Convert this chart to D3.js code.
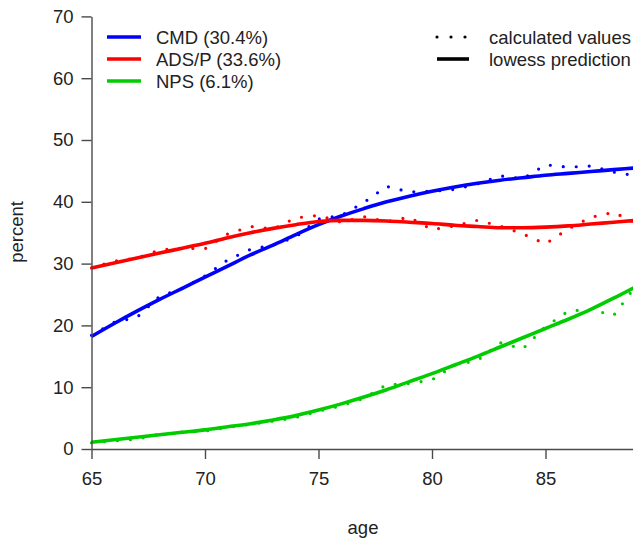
<!DOCTYPE html>
<html>
<head>
<meta charset="utf-8">
<script src="https://cdn.jsdelivr.net/npm/d3@7"></script>
<style>
  body { margin: 0; background: #fff; }
  svg { display: block; }
  text { font-family: "Liberation Sans", Arial, sans-serif; }
</style>
</head>
<body>
<svg id="chart" width="633" height="541"></svg>
<script>
// ages (years)
var AGES = [65,66,67,68,69,70,71,72,73,74,75,76,77,78,79,80,81,82,83,84,85,86,87,88,89];

// calculated values (percent)
var CMD_CALC  = [18.4,20.5,21.3,24.7,26.0,28.0,30.6,32.3,33.0,34.3,37.2,37.8,39.9,42.5,41.6,41.7,42.0,42.9,44.2,43.7,46.0,45.6,45.8,44.8,44.2];
var ADS_CALC  = [29.3,30.4,30.9,32.2,32.5,32.4,34.8,36.0,35.6,37.4,37.8,36.7,37.6,36.8,37.5,35.5,36.1,37.0,36.1,34.8,33.2,35.6,37.5,38.3,36.5];
var NPS_CALC  = [1.0,1.3,1.6,2.4,2.75,2.9,3.5,4.0,4.5,5.1,6.1,7.0,8.2,10.4,10.6,11.2,13.6,14.3,17.2,16.2,19.8,22.3,22.6,21.6,26.5];

// lowess prediction (percent)
var CMD_LOW = [18.2,20.3,22.3,24.2,26.0,27.8,29.6,31.4,33.0,34.7,36.3,37.7,38.9,40.0,40.9,41.7,42.4,43.0,43.5,43.9,44.3,44.6,44.9,45.2,45.5];
var ADS_LOW = [29.3,30.1,30.9,31.7,32.5,33.3,34.2,35.0,35.7,36.3,36.8,37.0,37.0,36.9,36.7,36.5,36.2,36.0,35.8,35.8,35.9,36.1,36.4,36.7,37.0];
var NPS_LOW = [1.1,1.5,1.9,2.3,2.7,3.1,3.6,4.1,4.7,5.4,6.3,7.3,8.4,9.6,10.9,12.2,13.6,15.0,16.5,18.0,19.5,21.0,22.6,24.4,26.3];

var SERIES_NAMES  = ["CMD (30.4%)", "ADS/P (33.6%)", "NPS (6.1%)"];
var SERIES_COLORS = ["#0000ff", "#ff0000", "#00cc00"];
var X_TICKS = [65,70,75,80,85];
var Y_TICKS = [0,10,20,30,40,50,60,70];

var FONT = "18.5px";

var svg = d3.select("#chart");

var x = d3.scaleLinear().domain([65, 90]).range([91.5, 91.5 + 25 * 22.7]);
var y = d3.scaleLinear().domain([0, 70]).range([449, 16.4]);

var calcs = [CMD_CALC, ADS_CALC, NPS_CALC];
var lows  = [CMD_LOW, ADS_LOW, NPS_LOW];

// dotted polylines for the calculated values
var calcLine = d3.line()
    .x(function(d, i){ return x(AGES[i]); })
    .y(function(d){ return y(d); });

var lowLine = d3.line()
    .x(function(d, i){ return x(AGES[i]); })
    .y(function(d){ return y(d); })
    .curve(d3.curveMonotoneX);

svg.selectAll("path.calc")
    .data(calcs)
    .enter()
    .append("path")
    .attr("class", "calc")
    .attr("d", calcLine)
    .attr("fill", "none")
    .attr("stroke", function(d, i){ return SERIES_COLORS[i]; })
    .attr("stroke-width", 3.2)
    .attr("stroke-linecap", "round")
    .attr("stroke-dasharray", "0,13");

svg.selectAll("path.low")
    .data(lows)
    .enter()
    .append("path")
    .attr("class", "low")
    .attr("d", lowLine)
    .attr("fill", "none")
    .attr("stroke", function(d, i){ return SERIES_COLORS[i]; })
    .attr("stroke-width", 3.6);

// axes
svg.append("g")
    .attr("transform", "translate(" + x(65) + ",0)")
    .call(d3.axisLeft(y).tickValues(Y_TICKS).tickSize(10).tickSizeOuter(0).tickPadding(8));

svg.append("g")
    .attr("transform", "translate(0," + y(0) + ")")
    .call(d3.axisBottom(x).tickValues(X_TICKS).tickSize(10).tickSizeOuter(0).tickPadding(13));

svg.selectAll(".domain, .tick line")
    .attr("stroke", "#4a4a4a")
    .attr("stroke-width", 1.4);
svg.selectAll(".tick text")
    .attr("fill", "#222")
    .style("font-size", FONT);

// axis titles
svg.append("text")
    .attr("transform", "translate(23,232) rotate(-90)")
    .attr("text-anchor", "middle")
    .attr("fill", "#222")
    .style("font-size", FONT)
    .text("percent");

svg.append("text")
    .attr("x", 363)
    .attr("y", 534)
    .attr("text-anchor", "middle")
    .attr("fill", "#222")
    .style("font-size", FONT)
    .text("age");

// legend: series
var leg = svg.append("g");
SERIES_NAMES.forEach(function(name, i){
    var ly = 37 + i * 22;
    leg.append("line")
        .attr("x1", 107).attr("x2", 141)
        .attr("y1", ly).attr("y2", ly)
        .attr("stroke", SERIES_COLORS[i])
        .attr("stroke-width", 3.6);
    leg.append("text")
        .attr("x", 156).attr("y", ly + 6.5)
        .attr("fill", "#222")
        .style("font-size", FONT)
        .text(name);
});

// legend: line types
leg.append("line")
    .attr("x1", 437).attr("x2", 468)
    .attr("y1", 37).attr("y2", 37)
    .attr("stroke", "#000")
    .attr("stroke-width", 3.2)
    .attr("stroke-linecap", "round")
    .attr("stroke-dasharray", "0,14");
leg.append("text")
    .attr("x", 489).attr("y", 43.5)
    .attr("fill", "#222")
    .style("font-size", FONT)
    .text("calculated values");
leg.append("line")
    .attr("x1", 437).attr("x2", 469)
    .attr("y1", 59).attr("y2", 59)
    .attr("stroke", "#000")
    .attr("stroke-width", 3.6);
leg.append("text")
    .attr("x", 489).attr("y", 65.5)
    .attr("fill", "#222")
    .style("font-size", FONT)
    .text("lowess prediction");
</script>
</body>
</html>
